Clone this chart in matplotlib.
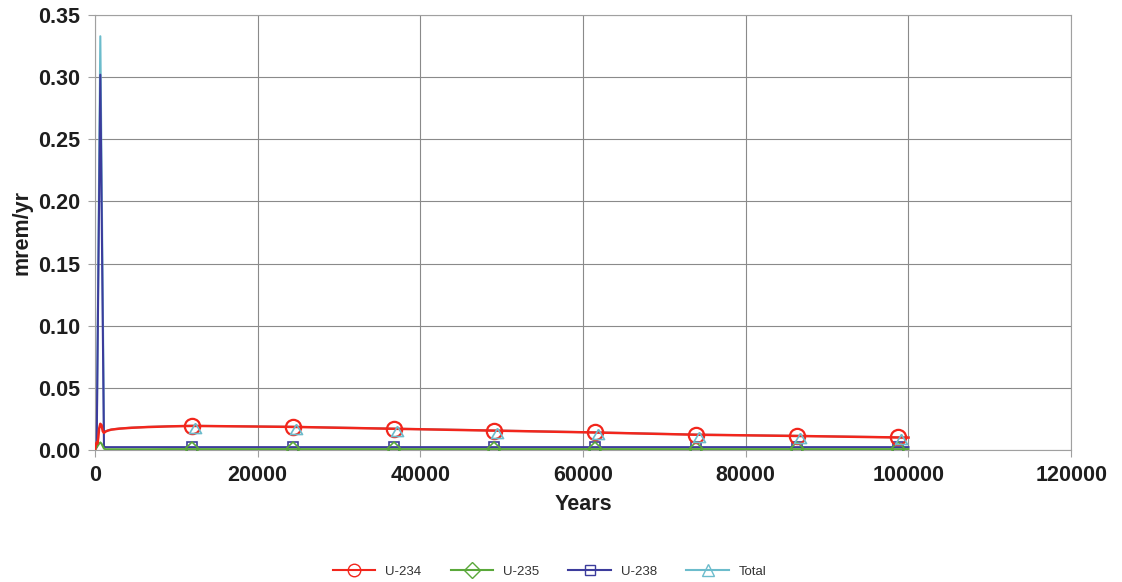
import matplotlib.pyplot as plt
from matplotlib.lines import Line2D

# dose vs. time for the uranium isotopes
years = [0, 100, 200, 300, 400, 500, 650, 800, 950, 1100, 1300, 1600, 2000,
         3000, 4500, 6500, 9000, 11900, 24300, 36700, 49100, 61500, 73900,
         86300, 98700, 100000]
u234 = [0.0, 0.004, 0.006, 0.005, 0.010, 0.017, 0.021, 0.020, 0.015, 0.0137,
        0.0148, 0.0156, 0.0163, 0.0171, 0.0178, 0.0184, 0.0189, 0.0193, 0.0185,
        0.0170, 0.0155, 0.0140, 0.0122, 0.0112, 0.0100, 0.0099]
u235 = [0.0, 0.001, 0.002, 0.003, 0.004, 0.005, 0.006, 0.005, 0.003, 0.001,
        0.0005, 0.0005, 0.0005, 0.0005, 0.0005, 0.0005, 0.0006, 0.0006, 0.0006,
        0.0006, 0.0006, 0.0006, 0.0006, 0.0006, 0.0006, 0.0006]
u238 = [0.0, 0.002, 0.002, 0.069, 0.136, 0.202, 0.302, 0.202, 0.102, 0.0025,
        0.0022, 0.0022, 0.0022, 0.0022, 0.0022, 0.0022, 0.0022, 0.0022, 0.0022,
        0.0022, 0.0022, 0.0022, 0.0022, 0.0022, 0.0022, 0.0022]
total = [0.0, 0.007, 0.010, 0.077, 0.150, 0.224, 0.333, 0.227, 0.120, 0.0138,
         0.0149, 0.0157, 0.0164, 0.0172, 0.0179, 0.0185, 0.0190, 0.0194, 0.0186,
         0.0171, 0.0156, 0.0141, 0.0123, 0.0113, 0.0101, 0.0100]
mark_idx = list(range(17, 25))

c234 = '#f2261c'
c235 = '#5aa83a'
c238 = '#3c3c9c'
ctot = '#6cbccc'

plt.rcParams['font.family'] = ['Liberation Sans', 'DejaVu Sans']

fig = plt.figure(figsize=(11.22, 5.82), dpi=100)
ax = fig.add_axes([0.0847, 0.227, 0.870, 0.747])

# open triangle sitting a little right of and below its point
tri = [(0.3, 0.3), (-0.3, -0.7), (0.9, -0.7), (0.3, 0.3)]

ax.plot(years, total, color=ctot, lw=1.5, zorder=2)
ax.plot(years, u238, color=c238, lw=1.5, marker='s', ms=6.5, mfc='none',
        mec=c238, mew=1.2, markevery=mark_idx, zorder=3)
ax.plot(years, u235, color=c235, lw=1.5, marker='D', ms=7, mfc='none',
        mec=c235, mew=1.2, markevery=mark_idx, zorder=4)
ax.plot(years, u234, color=c234, lw=1.8, marker='o', ms=11, mfc='none',
        mec=c234, mew=1.6, markevery=mark_idx, zorder=5)
ax.plot([years[i] for i in mark_idx], [total[i] for i in mark_idx],
        ls='none', marker=tri, ms=13, mfc='none', mec=ctot, mew=1.2, zorder=6)

ax.set_xlim(0, 120000)
ax.set_ylim(0, 0.35)
ax.set_xticks(range(0, 120001, 20000))
ax.set_yticks([i * 0.05 for i in range(8)])
ax.set_yticklabels(['%.2f' % (i * 0.05) for i in range(8)])
ax.grid(True, color='#8a8a8a', lw=0.8)
ax.set_axisbelow(True)
for s in ax.spines.values():
    s.set_color('#a0a0a0')
ax.tick_params(direction='out', length=5, color='#a0a0a0', labelsize=15.5,
               labelcolor='#1e1e1e', pad=6)
for lab in ax.get_xticklabels() + ax.get_yticklabels():
    lab.set_fontweight('bold')

ax.set_xlabel('Years', fontsize=15.5, fontweight='bold', color='#1e1e1e',
              labelpad=6)
ax.set_ylabel('mrem/yr', fontsize=15.5, fontweight='bold', color='#1e1e1e',
              labelpad=4)

handles = [
    Line2D([], [], color=c234, lw=1.5, marker='o', ms=9, mfc='none', mec=c234),
    Line2D([], [], color=c235, lw=1.5, marker='D', ms=8, mfc='none', mec=c235),
    Line2D([], [], color=c238, lw=1.5, marker='s', ms=7, mfc='none', mec=c238),
    Line2D([], [], color=ctot, lw=1.5, marker='^', ms=9, mfc='none', mec=ctot),
]
fig.legend(handles, ['U-234', 'U-235', 'U-238', 'Total'], loc='center',
           bbox_to_anchor=(0.49, 0.018), ncol=4, frameon=False, fontsize=9.5,
           handlelength=3.2, columnspacing=2.2, handletextpad=0.8,
           labelcolor='#333333')

plt.savefig('out.png', dpi=100)
